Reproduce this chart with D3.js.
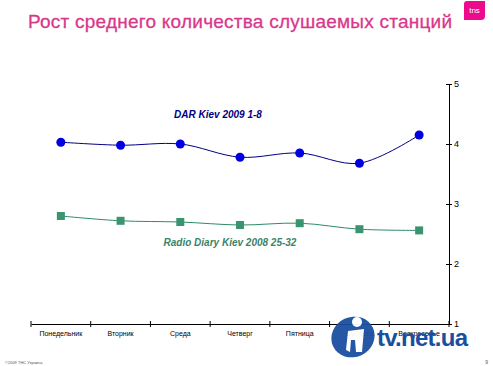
<!DOCTYPE html>
<html>
<head>
<meta charset="utf-8">
<script src="https://cdn.jsdelivr.net/npm/d3@7"></script>
<style>
  body { margin: 0; background: #fff; }
  svg { display: block; font-family: "Liberation Sans", Arial, sans-serif; }
</style>
</head>
<body>
<div id="chart"></div>
<script>
const days = ['Понедельник', 'Вторник', 'Среда', 'Четверг', 'Пятница', 'Суббота', 'Воскресенье'];
const darValues = [4.03, 3.98, 4.0, 3.78, 3.85, 3.68, 4.15];
const diaryValues = [2.80, 2.72, 2.70, 2.65, 2.68, 2.58, 2.56];
const yTicks = [1, 2, 3, 4, 5];

const width = 493;
const height = 366;

const svg = d3.select('#chart')
  .append('svg')
  .attr('width', width)
  .attr('height', height);

// title
svg.append('text')
  .attr('x', 28)
  .attr('y', 28)
  .attr('fill', '#d9378c')
  .style('font-size', '19px')
  .attr('textLength', 424)
  .attr('stroke', '#d9378c')
  .attr('stroke-width', 0.3)
  .text('Рост среднего количества слушаемых станций');

// tns logo
svg.append('path')
  .attr('d', 'M467,1 L485,1 L485,16 Q485,20 481,20 L464,20 L464,4 Q464,1 467,1 Z')
  .attr('fill', '#ec0b8c');
svg.append('text')
  .attr('x', 474.5).attr('y', 13)
  .attr('text-anchor', 'middle')
  .attr('fill', '#fff')
  .style('font-size', '8px')
  .text('tns');

const xScale = d3.scaleBand()
  .domain(days)
  .range([31, 449]);

const yScale = d3.scaleLinear()
  .domain([1, 5])
  .range([324, 84]);

// x axis
const xAxis = svg.append('g')
  .attr('transform', 'translate(0,324)')
  .call(d3.axisBottom(xScale).tickSize(0).tickPadding(7));
xAxis.select('.domain').attr('stroke', '#000');
xAxis.selectAll('text').style('font-size', '7px').attr('fill', '#000');
xAxis.selectAll('.sep')
  .data(days.concat(['end']))
  .join('line')
  .attr('class', 'sep')
  .attr('x1', (d, i) => 31 + i * xScale.bandwidth())
  .attr('x2', (d, i) => 31 + i * xScale.bandwidth())
  .attr('y1', -3).attr('y2', 3)
  .attr('stroke', '#000');

// y axis on the right
const yAxis = svg.append('g')
  .attr('transform', 'translate(449,0)')
  .call(d3.axisRight(yScale).tickValues(yTicks).tickFormat(d3.format('d')).tickSizeInner(3).tickSizeOuter(0).tickPadding(2));
yAxis.select('.domain').attr('stroke', '#000');
yAxis.selectAll('.tick line').attr('x1', -3).attr('x2', 3);
yAxis.selectAll('text').style('font-size', '9px').attr('fill', '#000');

const cx = (i) => xScale(days[i]) + xScale.bandwidth() / 2;

const line = d3.line()
  .x((d, i) => cx(i))
  .y((d) => yScale(d))
  .curve(d3.curveCatmullRom.alpha(0.5));

// green series
svg.append('path')
  .datum(diaryValues)
  .attr('d', line)
  .attr('fill', 'none')
  .attr('stroke', '#2e8b66')
  .attr('stroke-width', 1);
svg.selectAll('.sq')
  .data(diaryValues)
  .join('rect')
  .attr('class', 'sq')
  .attr('x', (d, i) => cx(i) - 4)
  .attr('y', (d) => yScale(d) - 4)
  .attr('width', 8).attr('height', 8)
  .attr('fill', '#3a9470');

// blue series
svg.append('path')
  .datum(darValues)
  .attr('d', line)
  .attr('fill', 'none')
  .attr('stroke', '#000080')
  .attr('stroke-width', 1);
svg.selectAll('.dot')
  .data(darValues)
  .join('circle')
  .attr('class', 'dot')
  .attr('cx', (d, i) => cx(i))
  .attr('cy', (d) => yScale(d))
  .attr('r', 4.5)
  .attr('fill', '#0000e0');

// series labels
svg.append('text')
  .attr('x', 218).attr('y', 118)
  .attr('text-anchor', 'middle')
  .attr('fill', '#000080')
  .style('font-size', '10px')
  .style('font-weight', 'bold')
  .style('font-style', 'italic')
  .text('DAR Kiev 2009 1-8');

svg.append('text')
  .attr('x', 230).attr('y', 246)
  .attr('text-anchor', 'middle')
  .attr('fill', '#3a8466')
  .style('font-size', '10px')
  .style('font-weight', 'bold')
  .style('font-style', 'italic')
  .text('Radio Diary Kiev 2008 25-32');

// watermark
const wm = svg.append('g').attr('opacity', 0.95);
wm.append('ellipse')
  .attr('cx', 353).attr('cy', 337)
  .attr('rx', 22).attr('ry', 20)
  .attr('transform', 'rotate(-25 353 337)')
  .attr('fill', '#1a4fa0');
wm.append('circle')
  .attr('cx', 357).attr('cy', 322)
  .attr('r', 5)
  .attr('fill', '#fff');
wm.append('path')
  .attr('d', 'M348,331 L364,329 L362,352 L356,352 L355,340 L351,340 L350,352 L346,350 Z')
  .attr('fill', '#fff');
svg.append('text')
  .attr('x', 377).attr('y', 346)
  .attr('fill', '#1a4fa0')
  .style('font-size', '24px')
  .style('font-weight', '600')
  .attr('textLength', 91)
  .text('tv.net.ua');

// footer
svg.append('text')
  .attr('x', 5).attr('y', 364)
  .attr('fill', '#555')
  .style('font-size', '4px')
  .text('©2009 ТНС Украина');
svg.append('text')
  .attr('x', 488).attr('y', 364)
  .attr('text-anchor', 'end')
  .attr('fill', '#555')
  .style('font-size', '5px')
  .text('9');
</script>
</body>
</html>
